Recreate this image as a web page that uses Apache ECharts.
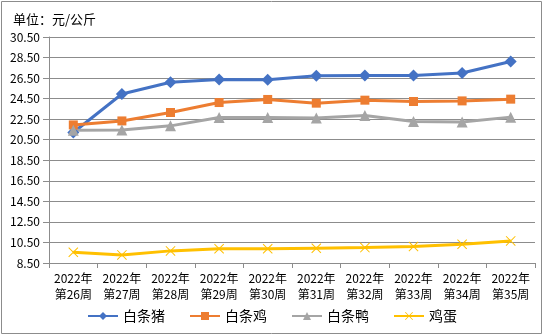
<!DOCTYPE html>
<html><head><meta charset="utf-8">
<script src="https://cdn.jsdelivr.net/npm/echarts@6/dist/echarts.min.js"></script>
<style>html,body{margin:0;padding:0;background:#fff}#c{width:544px;height:336px}</style>
</head><body><div id="c"></div>
<script>
const categories = ['2022年\n第26周','2022年\n第27周','2022年\n第28周','2022年\n第29周','2022年\n第30周','2022年\n第31周','2022年\n第32周','2022年\n第33周','2022年\n第34周','2022年\n第35周'];
const pork = [21.2, 24.95, 26.1, 26.37, 26.33, 26.72, 26.75, 26.75, 26.99, 28.12];
const chicken = [21.94, 22.33, 23.15, 24.12, 24.42, 24.06, 24.35, 24.22, 24.28, 24.45];
const duck = [21.42, 21.45, 21.85, 22.66, 22.66, 22.62, 22.85, 22.27, 22.22, 22.7];
const egg = [9.55, 9.29, 9.68, 9.88, 9.88, 9.94, 10.0, 10.1, 10.33, 10.65];
const names = ['白条猪','白条鸡','白条鸭','鸡蛋'];
const colors = ['#4472C4','#ED7D31','#A5A5A5','#FFC000'];
const FONT = '"Noto Sans CJK SC", sans-serif';
const xSym = 'path://M0,7L7,0L50,43L93,0L100,7L57,50L100,93L93,100L50,57L7,100L0,93L43,50Z';
const chart = echarts.init(document.getElementById('c'));
function mk(name, data, color, symbol, size) {
  return {name, type:'line', data, symbol, symbolSize:size, showSymbol:true,
    lineStyle:{color, width:3}, itemStyle:{color}, emphasis:{disabled:true}};
}
chart.setOption({
  animation:false,
  textStyle:{fontFamily:FONT},
  graphic:[{type:'rect', shape:{x:1.5,y:1.5,width:540,height:332}, style:{fill:null, stroke:'#8c8c8c', lineWidth:1}, silent:true}],
  title:{text:'单位：元/公斤', left:8, top:8, textStyle:{fontSize:13, fontWeight:'normal', color:'#000', fontFamily:FONT}},
  grid:{left:49, right:9, top:37, bottom:73},
  legend:{bottom:8, left:'center', itemWidth:30, itemHeight:10, itemGap:24,
    textStyle:{fontSize:14, color:'#000', fontFamily:FONT}, data:names},
  xAxis:{type:'category', data:categories, boundaryGap:true,
    axisLine:{lineStyle:{color:'#8c8c8c', width:1}},
    axisTick:{show:true, alignWithLabel:false, length:5, lineStyle:{color:'#8c8c8c'}},
    axisLabel:{interval:0, fontSize:12, color:'#000', lineHeight:16, margin:7, fontFamily:FONT}},
  yAxis:{type:'value', min:8.5, max:30.5, interval:2,
    axisLine:{show:true, lineStyle:{color:'#8c8c8c'}},
    axisTick:{show:true, length:6, lineStyle:{color:'#8c8c8c'}},
    splitLine:{lineStyle:{color:'#8c8c8c', width:1}},
    axisLabel:{fontSize:12, color:'#000', margin:9, formatter:v=>v.toFixed(2), fontFamily:FONT}},
  series:[
    mk(names[0], pork, colors[0], 'diamond', 12),
    mk(names[1], chicken, colors[1], 'rect', 9),
    mk(names[2], duck, colors[2], 'triangle', 11),
    mk(names[3], egg, colors[3], xSym, 10)
  ]
});
</script></body></html>
